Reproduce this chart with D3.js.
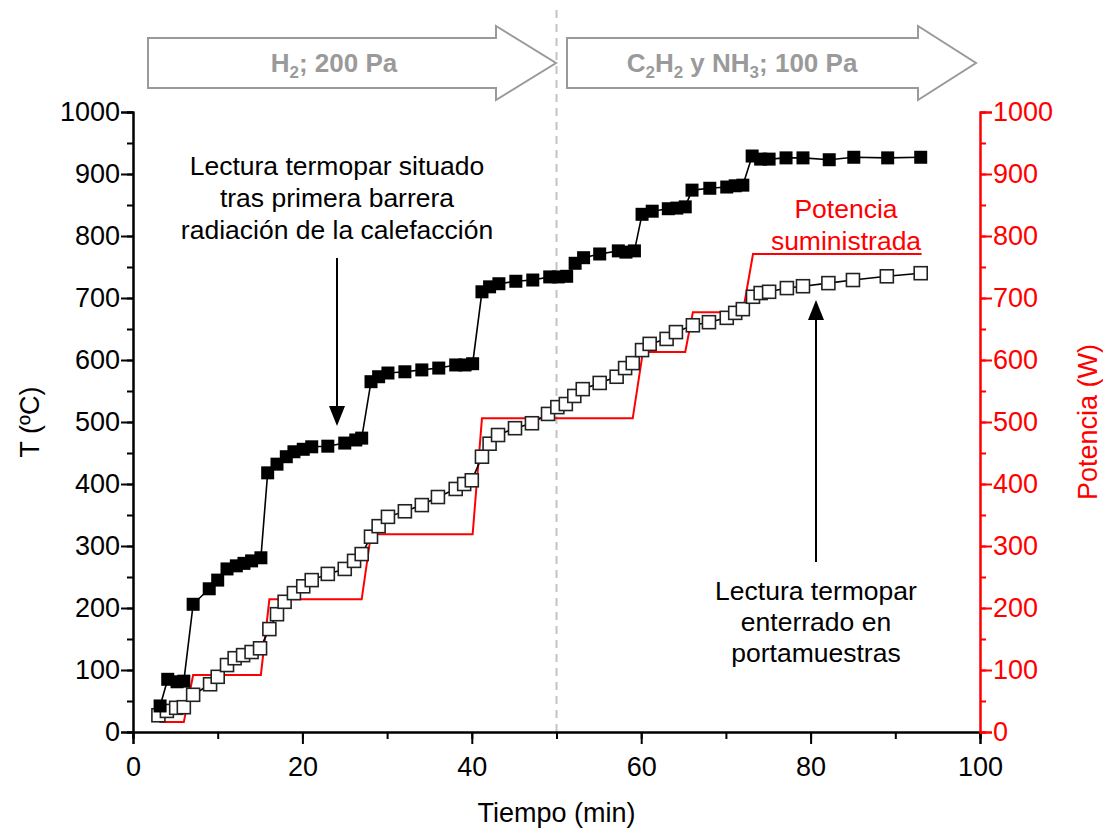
<!DOCTYPE html>
<html>
<head>
<meta charset="utf-8">
<script src="https://cdn.jsdelivr.net/npm/d3@7"></script>
<style>
  html, body { margin: 0; padding: 0; background: #fff; }
  svg text { font-family: "Liberation Sans", Arial, sans-serif; }
</style>
</head>
<body>
<svg id="chart" width="1103" height="832"></svg>
<script>
// Thermocouple behind the first heat shield (filled squares): [min, ºC]
const tempShield = [
  [3.2,42],[4.1,85],[5.2,81],[6.0,82],[7.1,206],[9.0,231],[10.0,245],[11.1,263],
  [12.2,268],[13.1,272],[14.0,276],[15.1,281],[15.9,418],[17.0,432],[18.1,444],
  [19.0,452],[20.1,456],[21.1,460],[23.0,461],[25.0,466],[26.3,471],[27.0,474],
  [28.1,565],[29.0,573],[30.1,579],[32.1,581],[34.1,584],[36.1,587],[38.1,592],
  [39.2,592],[40.1,594],[41.2,710],[42.1,718],[43.2,723],[45.2,727],[47.2,729],
  [49.2,734],[50.2,734],[51.2,735],[52.2,756],[53.2,765],[55.1,771],[57.3,776],
  [58.2,774],[59.2,776],[60.1,835],[61.3,840],[63.2,844],[64.2,845],[65.2,847],
  [66.0,874],[68.1,877],[70.1,879],[71.1,881],[72.0,882],[73.1,929],[74.1,924],
  [75.1,924],[77.1,926],[79.1,926],[82.2,923],[85.1,927],[89.1,926],[93.0,927]
];

// Thermocouple buried in the sample holder (open squares): [min, ºC]
const tempHolder = [
  [3.0,27],[4.0,34],[5.1,39],[6.0,40],[7.1,60],[9.1,77],[10.0,89],[11.1,108],
  [12.0,119],[13.0,124],[14.0,129],[15.0,135],[16.1,166],[17.0,190],[17.9,210],
  [19.0,224],[20.1,235],[21.1,245],[23.0,255],[25.0,263],[26.1,276],[27.0,287],
  [28.1,315],[29.0,332],[30.1,347],[32.1,356],[34.1,366],[36.0,379],[38.1,392],
  [39.1,400],[40.0,406],[41.2,444],[42.1,465],[43.1,479],[45.1,490],[47.1,498],
  [49.0,513],[50.1,524],[51.1,529],[52.1,542],[53.1,553],[55.1,563],[57.1,573],
  [58.1,587],[59.0,595],[60.1,616],[61.0,626],[63.0,634],[64.1,645],[66.1,656],
  [68.0,661],[70.1,668],[71.1,676],[72.0,682],[73.2,702],[74.1,708],[75.1,710],
  [77.2,716],[79.1,719],[82.1,724],[85.0,729],[89.0,735],[93.0,740]
];

// Supplied power (W): [min, W]
const power = [
  [3.1,16],[6.0,16],[7.1,92],[15.1,92],[16.1,214],[27.0,214],[28.1,319],[40.1,319],
  [41.2,506],[59.0,506],[60.2,613],[65.2,613],[66.1,677],[72.0,677],[73.2,771],[93.1,771]
];

const xMajor = [0, 20, 40, 60, 80, 100];
const yMajor = [0, 100, 200, 300, 400, 500, 600, 700, 800, 900, 1000];
const phaseSwitch = 50;

const svg = d3.select("#chart");
const RED = "#ff0000";
const FS = 27;

const x = d3.scaleLinear().domain([0, 100]).range([133, 980]);
const yL = d3.scaleLinear().domain([0, 1000]).range([732, 112]);
const yR = d3.scaleLinear().domain([0, 1000]).range([732, 112]);

// Gas phase arrows
function phaseArrow(x0, xb, xt, cx, label) {
  const cy = 63, hb = 25, hh = 37;
  const pts = [[x0, cy - hb], [xb, cy - hb], [xb, cy - hh], [xt, cy], [xb, cy + hh], [xb, cy + hb], [x0, cy + hb]];
  svg.append("polygon")
    .attr("points", pts.map(p => p.join(",")).join(" "))
    .attr("fill", "#fff").attr("stroke", "#9a9a9a").attr("stroke-width", 2);
  const t = svg.append("text")
    .attr("x", cx).attr("y", cy + 9)
    .attr("text-anchor", "middle")
    .attr("font-size", 26).attr("font-weight", "bold").attr("fill", "#9a9a9a");
  let prevSub = false;
  label.forEach(([s, sub]) => {
    const ts = t.append("tspan").text(s);
    if (sub) ts.attr("font-size", 17).attr("dy", prevSub ? 0 : 6);
    else ts.attr("dy", prevSub ? -6 : 0);
    prevSub = !!sub;
  });
}
phaseArrow(148, 496, 556, 334, [["H"], ["2", true], ["; 200 Pa"]]);
phaseArrow(567, 918, 976, 742, [["C"], ["2", true], ["H"], ["2", true], [" y NH"], ["3", true], ["; 100 Pa"]]);

// Phase change marker
svg.append("line")
  .attr("x1", x(phaseSwitch)).attr("x2", x(phaseSwitch))
  .attr("y1", 10).attr("y2", yL(0))
  .attr("stroke", "#c4c4c4").attr("stroke-width", 2).attr("stroke-dasharray", "8,6");

// Axes
function styleAxis(g, color) {
  g.select(".domain").attr("stroke", color).attr("stroke-width", 2);
  g.selectAll(".tick line").attr("stroke", color).attr("stroke-width", 2);
  g.selectAll(".tick text").attr("fill", color).attr("font-size", FS)
    .attr("font-family", "Liberation Sans, Arial, sans-serif");
}

const xMinor = d3.range(0, 101, 10);
const gxm = svg.append("g").attr("transform", `translate(0,${yL(0)})`)
  .call(d3.axisBottom(x).tickValues(xMinor).tickSize(7).tickFormat(""));
styleAxis(gxm, "#000");
const gx = svg.append("g").attr("transform", `translate(0,${yL(0)})`)
  .call(d3.axisBottom(x).tickValues(xMajor).tickSize(12).tickPadding(13).tickFormat(d3.format("d")));
styleAxis(gx, "#000");

const yMinor = d3.range(0, 1001, 50);
const gym = svg.append("g").attr("transform", `translate(${x(0)},0)`)
  .call(d3.axisLeft(yL).tickValues(yMinor).tickSize(6).tickFormat(""));
styleAxis(gym, "#000");
const gy = svg.append("g").attr("transform", `translate(${x(0)},0)`)
  .call(d3.axisLeft(yL).tickValues(yMajor).tickSize(12).tickPadding(1).tickFormat(d3.format("d")));
styleAxis(gy, "#000");

const grm = svg.append("g").attr("transform", `translate(${x(100)},0)`)
  .call(d3.axisRight(yR).tickValues(yMinor).tickSize(6).tickFormat(""));
styleAxis(grm, RED);
const gr = svg.append("g").attr("transform", `translate(${x(100)},0)`)
  .call(d3.axisRight(yR).tickValues(yMajor).tickSize(12).tickPadding(1).tickFormat(d3.format("d")));
styleAxis(gr, RED);

// Axis titles
svg.append("text").attr("x", x(50)).attr("y", 822).attr("text-anchor", "middle")
  .attr("font-size", FS).text("Tiempo (min)");
svg.append("text").attr("transform", `translate(39,${yL(500)}) rotate(-90)`)
  .attr("text-anchor", "middle").attr("font-size", FS).text("T (ºC)");
svg.append("text").attr("transform", `translate(1097,${yL(500)}) rotate(-90)`)
  .attr("text-anchor", "middle").attr("font-size", FS).attr("fill", RED).text("Potencia (W)");

// Power line
svg.append("path").datum(power)
  .attr("d", d3.line().x(d => x(d[0])).y(d => yR(d[1])))
  .attr("fill", "none").attr("stroke", RED).attr("stroke-width", 2);

// Temperature connecting lines
svg.append("path").datum(tempShield)
  .attr("d", d3.line().x(d => x(d[0])).y(d => yL(d[1])))
  .attr("fill", "none").attr("stroke", "#000").attr("stroke-width", 1.6);
svg.append("path").datum(tempHolder)
  .attr("d", d3.line().x(d => x(d[0])).y(d => yL(d[1])))
  .attr("fill", "none").attr("stroke", "#000").attr("stroke-width", 1.6);

// Markers
const S = 13;
svg.append("g").selectAll("rect").data(tempHolder).join("rect")
  .attr("x", d => x(d[0]) - S / 2).attr("y", d => yL(d[1]) - S / 2)
  .attr("width", S).attr("height", S)
  .attr("fill", "#fff").attr("stroke", "#222").attr("stroke-width", 1.6);
svg.append("g").selectAll("rect").data(tempShield).join("rect")
  .attr("x", d => x(d[0]) - S / 2).attr("y", d => yL(d[1]) - S / 2)
  .attr("width", S).attr("height", S)
  .attr("fill", "#000");

// Annotations
function multiline(cx, y0, step, lines, color) {
  const t = svg.append("text").attr("text-anchor", "middle").attr("font-size", 26.5)
    .attr("fill", color || "#000");
  lines.forEach((s, i) => t.append("tspan").attr("x", cx).attr("y", y0 + i * step).text(s));
}
multiline(337, 175, 32, ["Lectura termopar situado", "tras primera barrera", "radiación de la calefacción"]);
multiline(846, 218, 32, ["Potencia", "suministrada"], RED);
multiline(816, 600, 31, ["Lectura termopar", "enterrado en", "portamuestras"]);

function arrow(ax, yFrom, yTo) {
  const dir = Math.sign(yTo - yFrom);
  const headLen = 20, headW = 8;
  svg.append("line").attr("x1", ax).attr("x2", ax).attr("y1", yFrom).attr("y2", yTo - dir * headLen)
    .attr("stroke", "#000").attr("stroke-width", 2);
  svg.append("polygon")
    .attr("points", `${ax},${yTo} ${ax - headW},${yTo - dir * headLen} ${ax + headW},${yTo - dir * headLen}`)
    .attr("fill", "#000");
}
arrow(337, 258, 426);
arrow(816, 562, 300);
</script>
</body>
</html>
